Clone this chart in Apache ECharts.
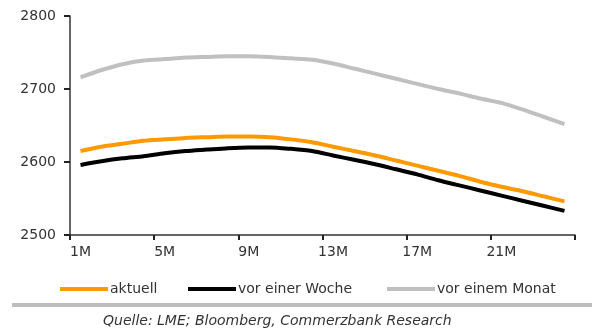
<!DOCTYPE html>
<html>
<head>
<meta charset="utf-8">
<script src="https://cdn.jsdelivr.net/npm/echarts@6/dist/echarts.min.js"></script>
<style>
  html, body { margin: 0; padding: 0; background: #fff; }
  #chart { width: 599px; height: 331px; }
</style>
</head>
<body>
<div id="chart"></div>
<script>
// Forward curve: months ahead 1M..24M
const months = Array.from({ length: 24 }, (_, i) => (i + 1) + 'M');

const aktuell = [2615, 2621, 2625, 2629, 2631, 2633, 2634, 2635, 2635, 2634, 2631, 2627,
                 2621, 2615, 2609, 2602, 2595, 2588, 2581, 2573, 2566, 2560, 2553, 2546];
const vorEinerWoche = [2596, 2601, 2605, 2608, 2612, 2615, 2617, 2619, 2620, 2620, 2618, 2615,
                       2609, 2603, 2597, 2590, 2583, 2575, 2568, 2561, 2554, 2547, 2540, 2533];
const vorEinemMonat = [2716, 2726, 2734, 2739, 2741, 2743, 2744, 2745, 2745, 2744, 2742, 2740,
                       2735, 2728, 2721, 2714, 2707, 2700, 2694, 2687, 2681, 2672, 2662, 2652];

const seriesNames = ['aktuell', 'vor einer Woche', 'vor einem Monat'];
const seriesColors = ['#FF9900', '#000000', '#C0C0C0'];
const seriesData = [aktuell, vorEinerWoche, vorEinemMonat];
const legendLeft = [55, 183, 382];

const FONT = 'DejaVu Sans';
const chart = echarts.init(document.getElementById('chart'), null, { renderer: 'canvas' });

chart.setOption({
  backgroundColor: '#ffffff',
  animation: false,
  textStyle: { fontFamily: FONT },
  grid: { left: 70, right: 24, top: 16, bottom: 96 },
  legend: seriesNames.map((name, i) => ({
    data: [name],
    left: legendLeft[i],
    top: 277,
    icon: 'rect',
    itemWidth: 48,
    itemHeight: 4,
    textStyle: { fontFamily: FONT, fontSize: 14, color: '#333', padding: [0, 0, 0, -3] }
  })),
  xAxis: {
    type: 'category',
    data: months,
    boundaryGap: true,
    axisLine: { show: true, lineStyle: { color: '#333', width: 1.5 } },
    axisTick: { show: true, interval: 3, length: 5, lineStyle: { color: '#222', width: 2 } },
    axisLabel: { interval: 3, margin: 10, fontFamily: FONT, fontSize: 14, color: '#333' },
    splitLine: { show: false }
  },
  yAxis: {
    type: 'value',
    min: 2500,
    max: 2800,
    interval: 100,
    axisLine: { show: true, lineStyle: { color: '#333', width: 1.5 } },
    axisTick: { show: true, inside: false, length: 6, lineStyle: { color: '#222', width: 2 } },
    axisLabel: { margin: 14, fontFamily: FONT, fontSize: 14, color: '#333', formatter: v => String(v) },
    splitLine: { show: false }
  },
  series: seriesNames.map((name, i) => ({
    name,
    type: 'line',
    data: seriesData[i],
    smooth: 0.25,
    showSymbol: false,
    symbol: 'none',
    z: 3 - i,
    itemStyle: { color: seriesColors[i] },
    lineStyle: { color: seriesColors[i], width: 4 }
  })),
  graphic: [
    {
      type: 'rect',
      shape: { x: 12, y: 303, width: 580, height: 4 },
      style: { fill: '#bdbdbd' },
      silent: true
    },
    {
      type: 'text',
      x: 103,
      y: 321,
      style: {
        text: 'Quelle: LME; Bloomberg, Commerzbank Research',
        font: 'italic 14px "' + FONT + '"',
        fill: '#333',
        verticalAlign: 'middle'
      },
      silent: true
    }
  ]
});
</script>
</body>
</html>
